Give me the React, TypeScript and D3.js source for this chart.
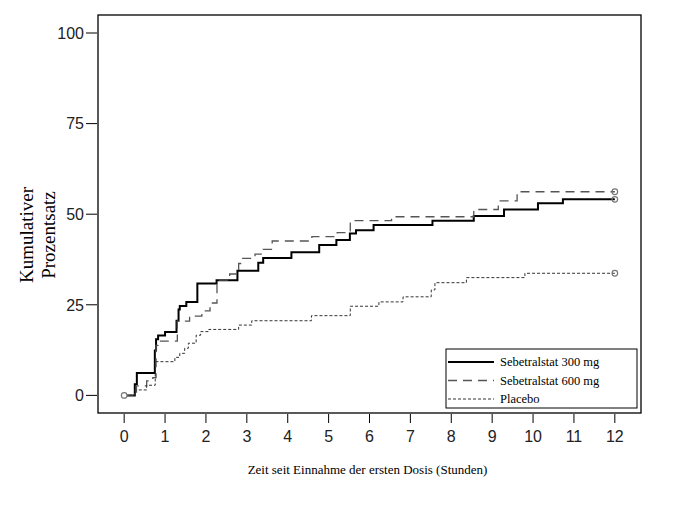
import React from 'react';
import * as d3 from 'd3';

// step data: [hours, cumulative %]
const sebe300: [number, number][] = [
  [0, 0], [0.26, 3.1], [0.31, 6.2], [0.75, 12.4], [0.78, 15.5], [0.83, 16.5],
  [1.0, 17.5], [1.28, 20.6], [1.33, 23.7], [1.36, 24.7], [1.52, 25.8],
  [1.79, 30.9], [2.26, 31.8], [2.77, 34.4], [3.28, 36.6], [3.4, 37.9],
  [4.09, 39.5], [4.77, 41.5], [5.19, 42.9], [5.52, 44.7], [5.67, 45.6],
  [6.1, 47.0], [7.54, 48.2], [8.55, 49.5], [9.29, 51.3], [10.12, 53.0],
  [10.73, 54.1], [12, 54.1],
];
const sebe600: [number, number][] = [
  [0, 0], [0.3, 2.6], [0.55, 4.0], [0.7, 4.9], [0.78, 13.8], [0.83, 15.0],
  [1.3, 20.5], [1.6, 21.9], [1.9, 23.3], [2.1, 25.5], [2.27, 31.8],
  [2.58, 33.5], [2.8, 36.4], [2.9, 37.8], [3.2, 39.0], [3.4, 40.3],
  [3.62, 42.6], [4.59, 43.8], [5.21, 44.9], [5.53, 48.2], [6.54, 49.3],
  [8.55, 51.3], [9.15, 53.7], [9.61, 56.2], [12, 56.2],
];
const placebo: [number, number][] = [
  [0, 0], [0.26, 1.5], [0.55, 2.8], [0.76, 9.3], [1.24, 10.5], [1.36, 11.6],
  [1.48, 13.0], [1.57, 14.4], [1.76, 16.6], [1.87, 17.6], [2.07, 18.2],
  [2.8, 19.4], [3.12, 20.6], [4.58, 22.0], [5.53, 24.6], [6.23, 25.8],
  [6.82, 27.2], [7.51, 29.1], [7.6, 31.1], [8.37, 32.5], [9.8, 33.7],
  [12, 33.7],
];

const xTicks = d3.range(0, 13);
const yTicks = [0, 25, 50, 75, 100];
const legendLabels = ['Sebetralstat 300 mg', 'Sebetralstat 600 mg', 'Placebo'];

const W = 676;
const H = 507;
const frame = { left: 98, right: 641, top: 15, bottom: 413 };

const styles = [
  { stroke: '#000', width: 2, dash: null },
  { stroke: '#555', width: 1.3, dash: '9,6' },
  { stroke: '#333', width: 1, dash: '3,2' },
];

export default function App() {
  const x = d3.scaleLinear().domain([-0.64, 12.64]).range([frame.left, frame.right]);
  const y = d3.scaleLinear().domain([-4.86, 104.97]).range([frame.bottom, frame.top]);

  const line = d3
    .line<[number, number]>()
    .x(d => x(d[0]))
    .y(d => y(d[1]))
    .curve(d3.curveStepAfter);

  const series = [sebe300, sebe600, placebo];
  const sans = 'Liberation Sans, Arial, sans-serif';
  const serif = 'Liberation Serif, Times New Roman, serif';

  return (
    <svg width={W} height={H} style={{ position: 'absolute', left: 0, top: 0, background: '#fff' }}>
      <rect x={0} y={0} width={W} height={H} fill="#fff" />
      {/* curves */}
      {series.map((s, i) => (
        <path
          key={i}
          d={line(s) || ''}
          fill="none"
          stroke={styles[i].stroke}
          strokeWidth={styles[i].width}
          strokeDasharray={styles[i].dash || undefined}
        />
      ))}
      {/* censor / end markers */}
      <circle cx={x(0)} cy={y(0)} r={2.8} fill="#fff" stroke="#777" strokeWidth={1.2} />
      {series.map((s, i) => {
        const last = s[s.length - 1];
        return (
          <circle key={i} cx={x(last[0])} cy={y(last[1])} r={2.8} fill="none" stroke="#777" strokeWidth={1.2} />
        );
      })}
      {/* frame */}
      <rect
        x={frame.left}
        y={frame.top}
        width={frame.right - frame.left}
        height={frame.bottom - frame.top}
        fill="none"
        stroke="#000"
        strokeWidth={1.3}
      />
      {/* y axis */}
      {yTicks.map(t => (
        <g key={t}>
          <line x1={86} x2={97} y1={y(t)} y2={y(t)} stroke="#000" strokeWidth={1} />
          <text x={84} y={y(t)} dy="0.36em" textAnchor="end" fontFamily={sans} fontSize={16} fill="#222">
            {t}
          </text>
        </g>
      ))}
      {/* x axis */}
      {xTicks.map(t => (
        <g key={t}>
          <line x1={x(t)} x2={x(t)} y1={frame.bottom + 1} y2={frame.bottom + 10} stroke="#000" strokeWidth={1} />
          <text x={x(t)} y={442} textAnchor="middle" fontFamily={sans} fontSize={16} fill="#222">
            {t}
          </text>
        </g>
      ))}
      {/* axis titles */}
      <text transform="translate(33,235) rotate(-90)" textAnchor="middle" fontFamily={serif} fontSize={19}>
        Kumulativer
      </text>
      <text transform="translate(55,235) rotate(-90)" textAnchor="middle" fontFamily={serif} fontSize={19}>
        Prozentsatz
      </text>
      <text x={367.5} y={474} textAnchor="middle" fontFamily={serif} fontSize={13}>
        Zeit seit Einnahme der ersten Dosis (Stunden)
      </text>
      {/* legend */}
      <rect x={446} y={349} width={191} height={59} fill="#fff" stroke="#000" strokeWidth={1} />
      {legendLabels.map((lab, i) => {
        const cy = 362 + i * 18.5;
        return (
          <g key={lab}>
            <line
              x1={448}
              x2={494}
              y1={cy}
              y2={cy}
              stroke={styles[i].stroke}
              strokeWidth={styles[i].width}
              strokeDasharray={styles[i].dash || undefined}
            />
            <text x={500} y={cy} dy="0.32em" fontFamily={serif} fontSize={12.5}>
              {lab}
            </text>
          </g>
        );
      })}
    </svg>
  );
}
